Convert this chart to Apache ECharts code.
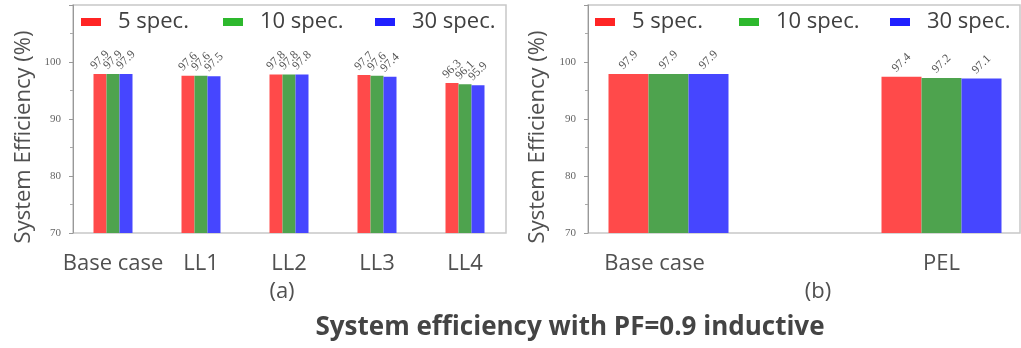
<!DOCTYPE html>
<html><head><meta charset="utf-8">
<script src="https://cdn.jsdelivr.net/npm/echarts@6/dist/echarts.min.js"></script>
<style>html,body{margin:0;padding:0;background:#fff;overflow:hidden;width:1021px;height:348px}#c{width:1100px;height:348px}</style>
</head><body><div id="c"></div>
<script>
const seriesNames = ['5 spec.', '10 spec.', '30 spec.'];
const catsA = ['Base case', 'LL1', 'LL2', 'LL3', 'LL4'];
const spec5A = [97.9, 97.6, 97.8, 97.7, 96.3];
const spec10A = [97.9, 97.6, 97.8, 97.6, 96.1];
const spec30A = [97.9, 97.5, 97.8, 97.4, 95.9];
const catsB = ['Base case', 'PEL'];
const spec5B = [97.9, 97.4];
const spec10B = [97.9, 97.2];
const spec30B = [97.9, 97.1];
const yTicks = [70, 80, 90, 100, 110];

const barColors = ['#FF4A4A', '#4EA34E', '#4646FF'];
const legendColors = ['#FF2424', '#2DB82D', '#2020FF'];
const font = '"Open Sans", sans-serif';

const chart = echarts.init(document.getElementById('c'), null, {renderer: 'canvas'});

function frameY(gridIndex) {
  return {
    gridIndex, type: 'value', min: yTicks[0], max: yTicks[yTicks.length - 1], interval: 10,
    axisLine: {show: true, lineStyle: {color: '#999', width: 1}},
    axisTick: {show: true, length: 4, lineStyle: {color: '#999'}},
    minorTick: {show: true, splitNumber: 2, length: 3, lineStyle: {color: '#aaa'}},
    splitLine: {show: false},
    axisLabel: {show: true, showMaxLabel: false, margin: 12, fontFamily: '"Liberation Serif", serif', fontSize: 11, color: '#666'}
  };
}
function hiddenY(gridIndex) {
  return {gridIndex, type: 'value', min: yTicks[0], max: yTicks[yTicks.length - 1], show: false, splitLine: {show: false}};
}
function hiddenX(gridIndex) {
  return {gridIndex, type: 'value', show: false, splitLine: {show: false}};
}
function catX(gridIndex, data, firstShift) {
  return {
    gridIndex, type: 'category', data, boundaryGap: true,
    axisLine: {show: false}, axisTick: {show: false}, splitLine: {show: false},
    axisLabel: {show: true, margin: 20, fontFamily: font, fontSize: 22, color: '#505050', interval: 0,
      formatter: (v, idx) => idx === 0 && firstShift ? '{s|' + v + '}' : v,
      rich: {s: {fontFamily: font, fontSize: 22, color: '#505050', padding: [0, firstShift || 0, 0, 0]}}}
  };
}
function barSeries(i, data, xi, yi, w) {
  return {
    type: 'bar', name: seriesNames[i], data, xAxisIndex: xi, yAxisIndex: yi,
    barWidth: w, barGap: '0%', clip: true,
    itemStyle: {color: barColors[i]},
    label: {show: true, position: 'top', distance: 14, rotate: 45, align: 'center', verticalAlign: 'middle',
      fontFamily: '"Liberation Serif", serif', fontSize: 12, color: '#555', formatter: '{c}'}
  };
}
function legendItem(i, left) {
  return {
    left, top: 6, itemWidth: 20, itemHeight: 8, selectedMode: false,
    data: [{name: seriesNames[i], icon: 'rect', itemStyle: {color: legendColors[i]}}],
    textStyle: {fontFamily: font, fontSize: 22, color: '#404040', padding: [0, 0, 0, 12]}
  };
}

const option = {
  animation: false,
  backgroundColor: '#fff',
  grid: [
    {left: 73, top: 5, width: 433, height: 228, show: true, borderColor: '#c8c8c8', borderWidth: 1.5, backgroundColor: 'transparent'},
    {left: 69, top: 5, width: 440, height: 228},
    {left: 588, top: 5, width: 432, height: 228, show: true, borderColor: '#c8c8c8', borderWidth: 1.5, backgroundColor: 'transparent'},
    {left: 532, top: 5, width: 546, height: 228}
  ],
  xAxis: [hiddenX(0), catX(1, catsA, 0), hiddenX(2), catX(3, catsB, 28)],
  yAxis: [frameY(0), hiddenY(1), frameY(2), hiddenY(3)],
  legend: [
    legendItem(0, 76), legendItem(1, 218), legendItem(2, 370),
    legendItem(0, 590), legendItem(1, 734), legendItem(2, 885)
  ],
  title: [
    {text: '(a)', left: 277, top: 276, textAlign: 'center', textStyle: {fontFamily: font, fontSize: 22, fontWeight: 'normal', color: '#505050'}},
    {text: '(b)', left: 813, top: 276, textAlign: 'center', textStyle: {fontFamily: font, fontSize: 22, fontWeight: 'normal', color: '#505050'}},
    {text: 'System efficiency with PF=0.9 inductive', left: 565, top: 310, textAlign: 'center', textStyle: {fontFamily: font, fontSize: 26, fontWeight: 'bold', color: '#444'}}
  ],
  graphic: [
    {type: 'text', x: 24, y: 137, rotation: Math.PI / 2, style: {text: 'System Efficiency (%)', x: 0, y: 0, align: 'center', verticalAlign: 'middle', font: '22px "Open Sans", sans-serif', fill: '#505050'}},
    {type: 'text', x: 538, y: 137, rotation: Math.PI / 2, style: {text: 'System Efficiency (%)', x: 0, y: 0, align: 'center', verticalAlign: 'middle', font: '22px "Open Sans", sans-serif', fill: '#505050'}}
  ],
  series: [
    barSeries(0, spec5A, 1, 1, 13), barSeries(1, spec10A, 1, 1, 13), barSeries(2, spec30A, 1, 1, 13),
    barSeries(0, spec5B, 3, 3, 40), barSeries(1, spec10B, 3, 3, 40), barSeries(2, spec30B, 3, 3, 40)
  ]
};
chart.setOption(option);
</script></body></html>
